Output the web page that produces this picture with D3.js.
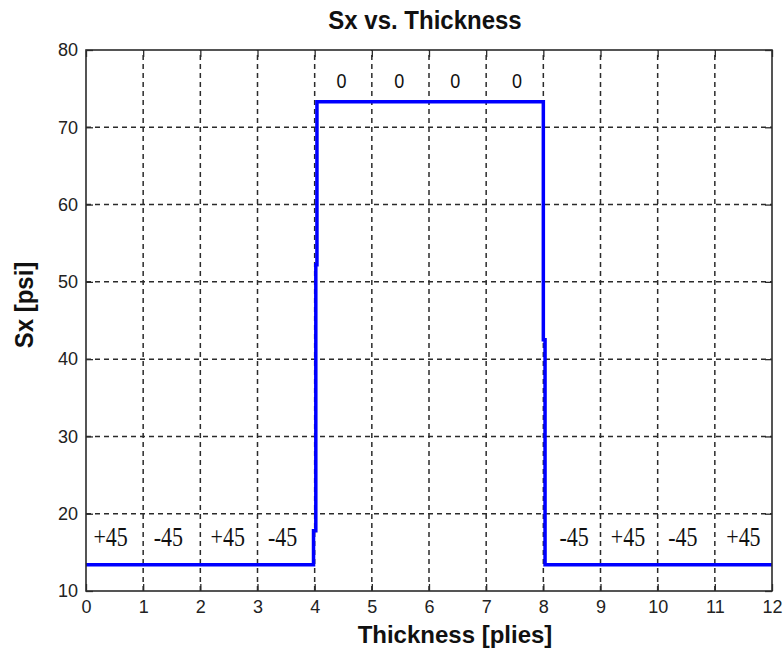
<!DOCTYPE html>
<html>
<head>
<meta charset="utf-8">
<script src="https://cdn.jsdelivr.net/npm/d3@7"></script>
<style>
  body { margin: 0; background: #fff; }
  svg { display: block; font-family: "Liberation Sans", Arial, sans-serif; }
</style>
</head>
<body>
<div id="chart"></div>
<script>
// ---------------- DATA ----------------

// stress profile through the laminate (x in plies, y in psi)
const thickness = [0, 3.98, 3.98, 4.02, 4.02, 4.04, 4.04, 8.0, 8.0, 8.03, 8.03, 12];
const sx = [13.4, 13.4, 17.8, 17.8, 52.2, 52.2, 73.3, 73.3, 42.5, 42.5, 13.4, 13.4];

// ply angle labels
const plyLabels = ["+45", "-45", "+45", "-45", "0", "0", "0", "0", "-45", "+45", "-45", "+45"];
const plyLabelX = [0.43, 1.44, 2.48, 3.44, 4.47, 5.48, 6.46, 7.54, 8.54, 9.48, 10.44, 11.5];
const plyLabelY = [15.8, 15.8, 15.8, 15.8, 75.1, 75.1, 75.1, 75.1, 15.8, 15.8, 15.8, 15.8];

const xTicks = [0, 1, 2, 3, 4, 5, 6, 7, 8, 9, 10, 11, 12];
const yTicks = [10, 20, 30, 40, 50, 60, 70, 80];

// ---------------- CHART ----------------

const width = 783, height = 651;
const margin = { top: 50, right: 11, bottom: 60, left: 86 };

const svg = d3.select("#chart")
  .append("svg")
  .attr("width", width)
  .attr("height", height);

const x = d3.scaleLinear().domain([0, 12]).range([margin.left, width - margin.right]);
const y = d3.scaleLinear().domain([10, 80]).range([height - margin.bottom, margin.top]);

const gridColor = "#2b2b2b";

// dashed grid
svg.append("g")
  .selectAll("line")
  .data(xTicks.slice(1, -1))
  .join("line")
  .attr("x1", d => x(d)).attr("x2", d => x(d))
  .attr("y1", y(10)).attr("y2", y(80))
  .attr("stroke", gridColor)
  .attr("stroke-width", 1.5)
  .attr("stroke-dasharray", "5,4");

svg.append("g")
  .selectAll("line")
  .data(yTicks.slice(1, -1))
  .join("line")
  .attr("x1", x(0)).attr("x2", x(12))
  .attr("y1", d => y(d)).attr("y2", d => y(d))
  .attr("stroke", gridColor)
  .attr("stroke-width", 1.5)
  .attr("stroke-dasharray", "5,4");

// axes with inward ticks, labels 18px
const axisStyle = g => {
  g.select(".domain").remove();
  g.selectAll(".tick line").attr("stroke", gridColor).attr("stroke-width", 1.3);
  g.selectAll(".tick text")
    .attr("fill", "#222")
    .style("font-size", "18px")
    .style("font-family", "'Liberation Sans', Arial, sans-serif");
};

svg.append("g")
  .attr("transform", `translate(0,${y(10)})`)
  .call(d3.axisBottom(x).tickValues(xTicks).tickSize(-7).tickPadding(9).tickFormat(d3.format("d")))
  .call(axisStyle);

svg.append("g")
  .attr("transform", `translate(0,${y(80)})`)
  .call(d3.axisTop(x).tickValues(xTicks).tickSize(-7).tickFormat(""))
  .call(axisStyle);

svg.append("g")
  .attr("transform", `translate(${x(0)},0)`)
  .call(d3.axisLeft(y).tickValues(yTicks).tickSize(-7).tickPadding(8).tickFormat(d3.format("d")))
  .call(axisStyle);

svg.append("g")
  .attr("transform", `translate(${x(12)},0)`)
  .call(d3.axisRight(y).tickValues(yTicks).tickSize(-7).tickFormat(""))
  .call(axisStyle);

// the stress line
const line = d3.line()
  .x((d, i) => x(thickness[i]))
  .y(d => y(d));

svg.append("path")
  .datum(sx)
  .attr("d", line)
  .attr("fill", "none")
  .attr("stroke", "#0000ff")
  .attr("stroke-width", 3.5);

// frame
svg.append("rect")
  .attr("x", x(0)).attr("y", y(80))
  .attr("width", x(12) - x(0))
  .attr("height", y(10) - y(80))
  .attr("fill", "none")
  .attr("stroke", gridColor)
  .attr("stroke-width", 1.6);

// ply labels (text in the source image is a bit stretched vertically)
svg.append("g")
  .selectAll("text")
  .data(plyLabels)
  .join("text")
  .attr("transform", (d, i) => `translate(${x(plyLabelX[i])},${y(plyLabelY[i])}) scale(1,${d === "0" ? 1.1 : 1.2})`)
  .attr("text-anchor", "middle")
  .attr("fill", "#111")
  .style("font-family", d => d === "0" ? "'Liberation Sans', Arial, sans-serif" : "'Liberation Serif', 'Times New Roman', serif")
  .style("font-size", d => d === "0" ? "18px" : "22px")
  .text(d => d);

// titles
svg.append("text")
  .attr("transform", "translate(425,29) scale(1,1.1)")
  .attr("text-anchor", "middle")
  .style("font-size", "24px")
  .style("font-weight", "bold")
  .attr("fill", "#111")
  .text("Sx vs. Thickness");

svg.append("text")
  .attr("x", 455)
  .attr("y", 643)
  .attr("text-anchor", "middle")
  .style("font-size", "24px")
  .style("font-weight", "bold")
  .attr("fill", "#111")
  .text("Thickness [plies]");

svg.append("text")
  .attr("transform", "translate(33,305) rotate(-90) scale(1,1.1)")
  .attr("text-anchor", "middle")
  .style("font-size", "24px")
  .style("font-weight", "bold")
  .attr("fill", "#111")
  .text("Sx [psi]");
</script>
</body>
</html>
